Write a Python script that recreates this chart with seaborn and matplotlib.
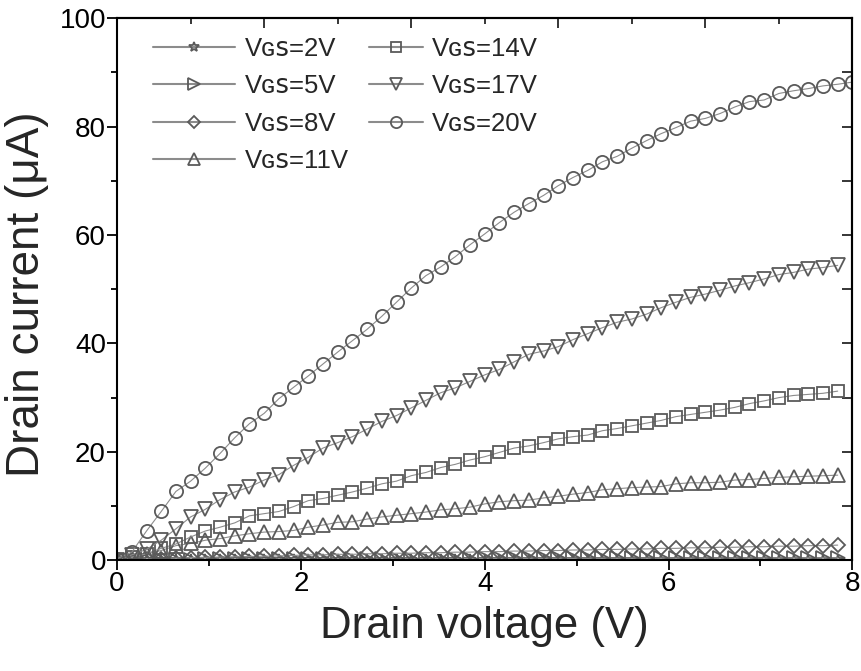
import numpy as np
import pandas as pd
import matplotlib
matplotlib.use("Agg")
import matplotlib.pyplot as plt
from matplotlib.ticker import MultipleLocator
import seaborn as sns

# drain voltage sweeps
vd_full = np.linspace(0, 8, 51)
vd = vd_full[:50]

# drain current (uA)
id_2 = [0.0, 0.0, 0.01, 0.01, 0.01, 0.02, 0.02, 0.02, 0.02, 0.03,
        0.03, 0.03, 0.03, 0.03, 0.04, 0.04, 0.04, 0.04, 0.04, 0.04,
        0.05, 0.05, 0.05, 0.05, 0.05, 0.05, 0.05, 0.05, 0.06, 0.06,
        0.06, 0.06, 0.06, 0.06, 0.06, 0.06, 0.06, 0.07, 0.07, 0.07,
        0.07, 0.07, 0.07, 0.07, 0.07, 0.07, 0.07, 0.08, 0.08, 0.08]
id_5 = [0.0, 0.03, 0.06, 0.09, 0.12, 0.14, 0.16, 0.18, 0.19, 0.2,
        0.21, 0.22, 0.23, 0.24, 0.25, 0.26, 0.27, 0.27, 0.28, 0.29,
        0.3, 0.3, 0.31, 0.32, 0.32, 0.33, 0.33, 0.34, 0.35, 0.35,
        0.36, 0.36, 0.37, 0.37, 0.38, 0.38, 0.39, 0.39, 0.4, 0.4,
        0.41, 0.41, 0.42, 0.42, 0.43, 0.43, 0.44, 0.44, 0.45, 0.45]
id_8 = [0.0, 0.1, 0.2, 0.3, 0.4, 0.5, 0.55, 0.6, 0.65, 0.7,
        0.75, 0.8, 0.9, 1.0, 1.0, 1.1, 1.1, 1.2, 1.2, 1.3,
        1.3, 1.4, 1.4, 1.5, 1.5, 1.6, 1.6, 1.7, 1.7, 1.8,
        1.8, 1.9, 1.9, 2.0, 2.0, 2.1, 2.1, 2.2, 2.2, 2.3,
        2.3, 2.4, 2.4, 2.5, 2.5, 2.6, 2.6, 2.7, 2.7, 2.8]
id_11 = [0.0, 0.5, 1.2, 1.8, 2.7, 3.1, 3.7, 4.0, 4.5, 4.9,
         5.2, 5.3, 5.5, 6.1, 6.5, 7.0, 7.1, 7.6, 8.0, 8.3,
         8.6, 8.9, 9.3, 9.5, 9.8, 10.4, 10.8, 11.0, 11.1, 11.5,
         11.8, 12.2, 12.5, 13.0, 13.2, 13.4, 13.5, 13.6, 14.1, 14.3,
         14.3, 14.4, 14.8, 14.9, 15.1, 15.3, 15.4, 15.5, 15.6, 15.7]
id_14 = [0.0, 0.6, 1.2, 2.2, 3.0, 4.3, 5.4, 6.1, 6.9, 8.2,
         8.6, 9.0, 9.9, 11.0, 11.4, 12.0, 12.6, 13.3, 14.1, 14.6,
         15.6, 16.2, 17.1, 17.7, 18.5, 19.1, 19.9, 20.7, 21.1, 21.7,
         22.4, 22.8, 23.1, 23.9, 24.3, 24.8, 25.3, 25.8, 26.5, 26.9,
         27.3, 27.7, 28.2, 28.9, 29.4, 30.0, 30.4, 30.6, 30.8, 31.2]
id_17 = [0.0, 1.0, 2.0, 3.7, 5.8, 8.0, 9.4, 11.2, 12.6, 13.5,
         14.8, 15.8, 17.5, 19.0, 20.7, 21.7, 22.8, 24.2, 25.6, 26.7,
         28.1, 29.5, 30.9, 31.8, 33.0, 34.2, 35.2, 36.6, 38.0, 38.6,
         39.4, 40.7, 41.8, 42.9, 43.9, 44.5, 45.4, 46.6, 47.6, 48.5,
         49.1, 49.8, 50.6, 51.2, 51.9, 52.7, 53.1, 53.7, 54.0, 54.4]
id_20 = [0.3, 1.5, 5.4, 9.0, 12.7, 14.6, 17.0, 19.7, 22.6, 25.2,
         27.1, 29.8, 31.9, 34.0, 36.2, 38.4, 40.5, 42.6, 45.0, 47.6,
         50.2, 52.5, 54.1, 56.0, 58.2, 60.2, 62.3, 64.2, 65.8, 67.3,
         69.1, 70.6, 71.9, 73.5, 74.5, 76.0, 77.4, 78.7, 79.8, 81.0,
         81.5, 82.4, 83.6, 84.6, 84.9, 86.1, 86.6, 87.0, 87.5, 87.8,
         88.2]

labels = ["V\u0262\ua731=2V", "V\u0262\ua731=5V", "V\u0262\ua731=8V",
          "V\u0262\ua731=11V", "V\u0262\ua731=14V", "V\u0262\ua731=17V",
          "V\u0262\ua731=20V"]

series = [
    (vd, id_2, "*", 9),
    (vd, id_5, ">", 9.5),
    (vd, id_8, "D", 7),
    (vd, id_11, "^", 10),
    (vd, id_14, "s", 8.5),
    (vd, id_17, "v", 10),
    (vd_full, id_20, "o", 9.5),
]

sns.set_theme(style="ticks")
plt.rcParams["font.family"] = ["Liberation Sans", "DejaVu Sans"]

fig = plt.figure(figsize=(8.61, 6.71), dpi=100)
ax = fig.add_axes([0.136, 0.165, 0.854, 0.808])

edge = "#5a5a5a"
for (x, y, m, ms), lab in zip(series, labels):
    df = pd.DataFrame({"Vd": x, "Id": y})
    sns.lineplot(data=df, x="Vd", y="Id", ax=ax, sort=False, estimator=None,
                 color="#8c8c8c", linewidth=0.8, marker=m, markersize=ms,
                 markerfacecolor="none", markeredgecolor=edge,
                 markeredgewidth=1.3, label=lab, legend=False)

ax.set_xlim(0, 8)
ax.set_ylim(0, 100)
ax.xaxis.set_major_locator(MultipleLocator(2))
ax.xaxis.set_minor_locator(MultipleLocator(1))
ax.yaxis.set_major_locator(MultipleLocator(20))
ax.yaxis.set_minor_locator(MultipleLocator(10))
ax.tick_params(which="both", direction="out", width=1.3, colors="black",
               labelsize=20, pad=1)
ax.tick_params(which="major", length=7)
ax.tick_params(which="minor", length=4)

for s in ax.spines.values():
    s.set_visible(True)
    s.set_linewidth(1.5)
    s.set_color("black")

# mirrored axes with inward ticks
right = ax.secondary_yaxis("right")
right.yaxis.set_major_locator(MultipleLocator(20))
right.yaxis.set_minor_locator(MultipleLocator(10))
right.tick_params(which="both", direction="in", labelright=False, width=1.3)
right.tick_params(which="major", length=7)
right.tick_params(which="minor", length=7)
right.spines["right"].set_linewidth(1.5)

top = ax.secondary_xaxis("top")
top.xaxis.set_major_locator(MultipleLocator(1.6))
top.xaxis.set_minor_locator(MultipleLocator(0.8))
top.tick_params(which="both", direction="in", labeltop=False, width=1.3)
top.tick_params(which="major", length=7)
top.tick_params(which="minor", length=4)
top.spines["top"].set_linewidth(1.5)

ax.set_xlabel("Drain voltage (V)", fontsize=31.5)
ax.set_ylabel("Drain current (\u03bcA)", fontsize=33)
ax.xaxis.set_label_coords(0.5, -0.084)
ax.yaxis.set_label_coords(-0.093, 0.49)

handles = ax.get_lines()[:7]
leg_kw = dict(loc="upper left", frameon=False, fontsize=18.5,
              handletextpad=0.36, labelspacing=0.53, borderpad=0,
              borderaxespad=0, markerscale=0.85)
leg1 = ax.legend(handles[:4], labels[:4], bbox_to_anchor=(0.049, 0.966),
                 handlelength=3.2, **leg_kw)
ax.add_artist(leg1)
leg2 = ax.legend(handles[4:], labels[4:], bbox_to_anchor=(0.342, 0.966),
                 handlelength=2.1, **leg_kw)
for leg in (leg1, leg2):
    for line in leg.get_lines():
        line.set_linewidth(1.5)

fig.savefig("out.png", dpi=100)
